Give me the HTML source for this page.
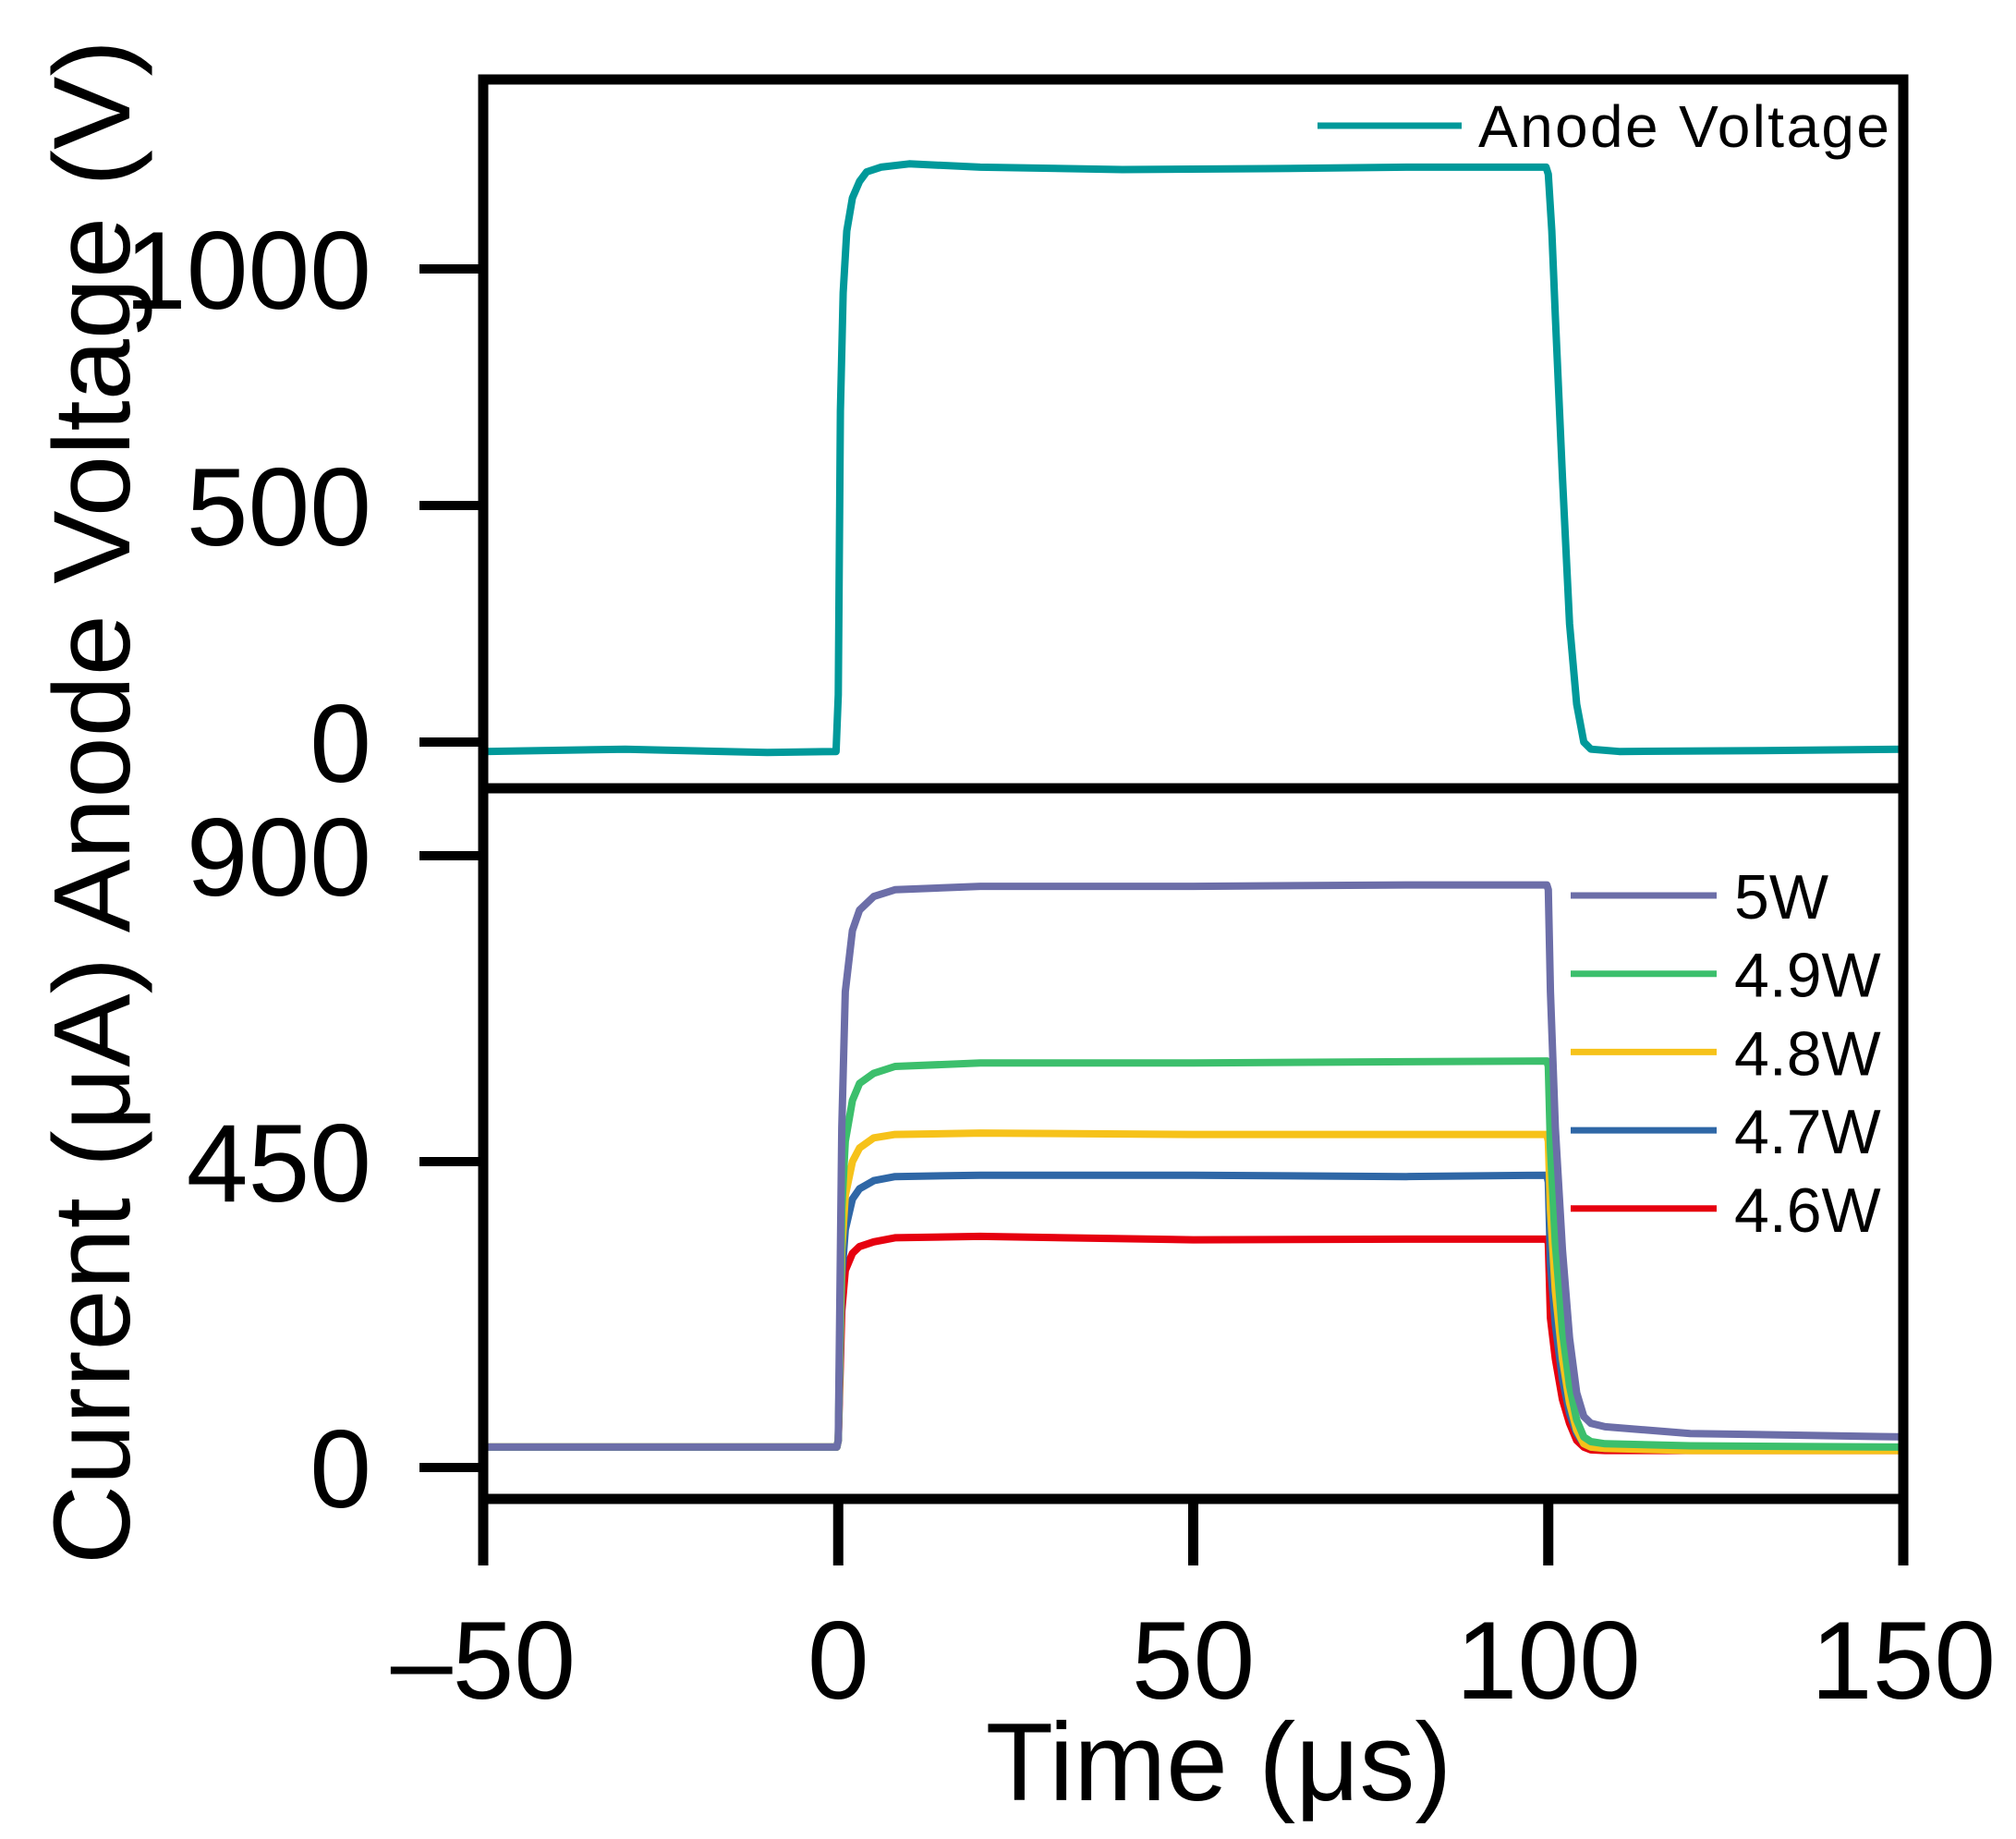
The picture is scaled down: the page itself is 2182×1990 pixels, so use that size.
<!DOCTYPE html>
<html><head><meta charset="utf-8"><style>html,body{margin:0;padding:0;background:#fff}svg{display:block}</style></head>
<body>
<svg id="chart" width="2182" height="1990" viewBox="0 0 2182 1990" xmlns="http://www.w3.org/2000/svg" font-family="Liberation Sans, Arial, sans-serif">
<defs>
<clipPath id="ctop"><rect x="523" y="86" width="1537" height="767"/></clipPath>
<clipPath id="cbot"><rect x="523" y="853" width="1537" height="769"/></clipPath>
</defs>
<g id="marks"></g>
<g id="axes"></g>
<text x="0" y="0" font-size="118" textLength="1650" lengthAdjust="spacingAndGlyphs" text-anchor="middle" transform="translate(140,868) rotate(-90)">Current (μA) Anode Voltage (V)</text>
<text x="1319" y="1948" font-size="120" text-anchor="middle">Time (μs)</text>
</svg>
<script>
// ---- data ----
const xTicks = [-50, 0, 50, 100, 150];
const vTicks = [0, 500, 1000];
const iTicks = [0, 450, 900];
const vTimes = [-50,-30,-10,-0.3,0,0.3,0.7,1.2,2,3,4,6,10,20,40,60,80,99.7,100,100.5,101,102,103,104,105,106,110,130,150];
const voltage = [-20,-15,-22,-20,100,700,950,1080,1150,1185,1205,1215,1222,1215,1210,1212,1215,1215,1200,1080,900,560,250,80,0,-15,-20,-18,-15];
const iTimes = [-50,-0.2,0,0.5,1,2,3,5,8,20,50,80,99.8,100,100.3,101,102,103,104,105,106,108,120,150];
const seriesNames = ["5W","4.9W","4.8W","4.7W","4.6W"];
const seriesColors = ["#6c6ea8","#3cbf6c","#f6c21a","#2f67a6","#e6000f"];
const cur5W  = [30,30,40,500,700,790,820,840,850,855,855,857,857,850,700,500,320,190,110,75,65,60,50,45];
const cur49W = [30,30,40,380,480,540,565,580,590,595,595,597,598,590,470,330,200,120,70,45,38,35,32,30];
const cur48W = [30,30,40,320,400,450,470,485,490,492,490,490,490,480,380,260,160,95,55,35,30,28,25,25];
const cur47W = [30,30,40,280,350,395,410,422,428,430,430,428,430,420,300,210,130,80,50,35,30,28,27,27];
const cur46W = [30,30,40,230,290,315,325,332,338,340,335,336,336,330,220,160,100,65,40,30,26,25,25,25];
const currents = [cur5W, cur49W, cur48W, cur47W, cur46W];

// ---- scales ----
const X = t => 523 + (t + 50) * (2060 - 523) / 200;
const YV = v => 803 - v * 0.512;
const YI = c => 1588 - c * (1588 - 926) / 900;
const NS = "http://www.w3.org/2000/svg";
const marks = document.getElementById('marks');
const axes = document.getElementById('axes');
function mk(tag, attrs, parent) {
  const e = document.createElementNS(NS, tag);
  for (const k in attrs) e.setAttribute(k, attrs[k]);
  parent.appendChild(e);
  return e;
}
function pathD(ts, vs, Y) { return ts.map((t, i) => (i ? 'L' : 'M') + X(t).toFixed(1) + ',' + Y(vs[i]).toFixed(1)).join(''); }

const vl = mk('path', {d: pathD(vTimes, voltage, YV), fill: 'none', stroke: '#00999a', 'stroke-width': 8, 'stroke-linejoin': 'round', 'clip-path': 'url(#ctop)'}, marks);



for (let s = currents.length - 1; s >= 0; s--) {
  const p = mk('path', {d: pathD(iTimes, currents[s], YI), fill: 'none', stroke: seriesColors[s], 'stroke-width': 8, 'stroke-linejoin': 'round', 'clip-path': 'url(#cbot)'}, marks);
  
  
}

const f1 = mk('rect', {x: 523, y: 86, width: 1537, height: 767, fill: 'none', stroke: '#000', 'stroke-width': 11}, axes);


const f2 = mk('rect', {x: 523, y: 853, width: 1537, height: 769, fill: 'none', stroke: '#000', 'stroke-width': 11}, axes);



vTicks.forEach(v => {
  const l = mk('line', {x1: 454, x2: 523, y1: YV(v), y2: YV(v), stroke: '#000', 'stroke-width': 10}, axes);
  
  
  const t = mk('text', {x: 402, y: YV(v) + 43, 'font-size': 120, 'text-anchor': 'end'}, axes);
  t.textContent = v;
  
  
});
iTicks.forEach(v => {
  const l = mk('line', {x1: 454, x2: 523, y1: YI(v), y2: YI(v), stroke: '#000', 'stroke-width': 10}, axes);
  
  
  const t = mk('text', {x: 402, y: YI(v) + 43, 'font-size': 120, 'text-anchor': 'end'}, axes);
  t.textContent = v;
  
  
});
xTicks.forEach(v => {
  const l = mk('line', {x1: X(v), x2: X(v), y1: 1622, y2: 1694, stroke: '#000', 'stroke-width': 11}, axes);
  
  
  const t = mk('text', {x: X(v), y: 1838, 'font-size': 120, 'text-anchor': 'middle'}, axes);
  t.textContent = v < 0 ? '\u2013' + Math.abs(v) : v;
  
  
});

const lv = mk('line', {x1: 1426, x2: 1582, y1: 136, y2: 136, stroke: '#00999a', 'stroke-width': 7}, axes);


const tv = mk('text', {x: 1600, y: 159, 'font-size': 64, textLength: 445}, axes);
tv.textContent = 'Anode Voltage';


seriesNames.forEach((n, i) => {
  const y = 969 + i * 84.7;
  const l = mk('line', {x1: 1700, x2: 1858, y1: y, y2: y, stroke: seriesColors[i], 'stroke-width': 7}, axes);
  
  
  const t = mk('text', {x: 1877, y: y + 25, 'font-size': 68}, axes);
  t.textContent = n;
  
  
});
</script>
</body></html>
